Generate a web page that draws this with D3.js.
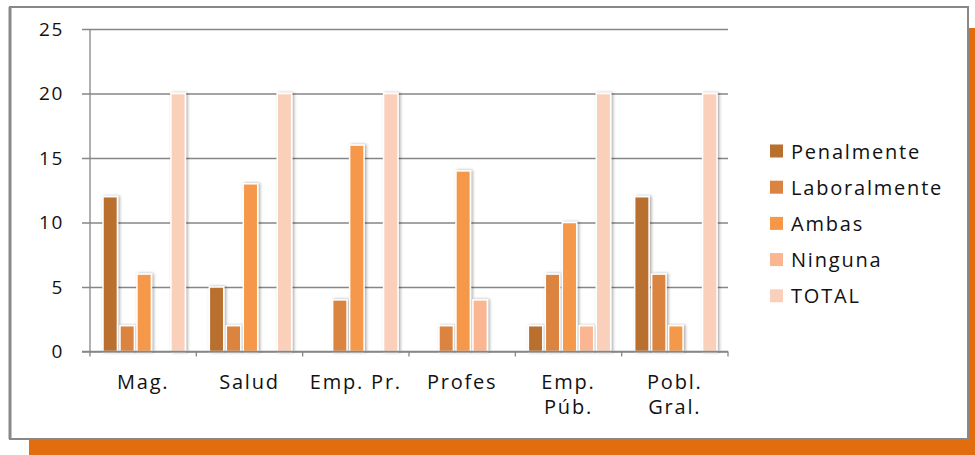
<!DOCTYPE html>
<html>
<head>
<meta charset="utf-8">
<script src="https://cdn.jsdelivr.net/npm/d3@7"></script>
<style>
  html, body { margin: 0; padding: 0; background: #ffffff; }
  svg { display: block; }
  text { font-family: "Open Sans", sans-serif; fill: #111; }
</style>
</head>
<body>
<svg id="chart" width="975" height="455"></svg>
<script>
// Categories (x axis), one label line per array entry
const categories = [["Mag."], ["Salud"], ["Emp. Pr."], ["Profes"], ["Emp.", "Púb."], ["Pobl.", "Gral."]];
const seriesNames = ["Penalmente", "Laboralmente", "Ambas", "Ninguna", "TOTAL"];
const penalmente   = [12, 5, 0, 0, 2, 12];
const laboralmente = [2, 2, 4, 2, 6, 6];
const ambas        = [6, 13, 16, 14, 10, 2];
const ninguna      = [0, 0, 0, 4, 2, 0];
const total        = [20, 20, 20, 0, 20, 20];
const yTicks = [0, 5, 10, 15, 20, 25];

const seriesValues = [penalmente, laboralmente, ambas, ninguna, total];
const colors = ["#B9702F", "#DB8441", "#F69848", "#F9B690", "#FBD0BA"];

const svg = d3.select("#chart");

// Frame: orange offset band behind a white panel with a grey border
svg.append("rect").attr("x", 29).attr("y", 28).attr("width", 960).attr("height", 440).attr("fill", "#E26D0E");
svg.append("rect").attr("x", 10).attr("y", 7).attr("width", 958).attr("height", 432)
  .attr("fill", "#fff").attr("stroke", "#888").attr("stroke-width", 2);
svg.append("line").attr("x1", 10).attr("x2", 10).attr("y1", 7).attr("y2", 439)
  .attr("stroke", "#888").attr("stroke-width", 3);

const defs = svg.append("defs");
const f = defs.append("filter").attr("id", "barShadow")
  .attr("x", "-60%").attr("y", "-10%").attr("width", "220%").attr("height", "120%");
f.append("feDropShadow").attr("dx", 1.5).attr("dy", 0).attr("stdDeviation", 1.8)
  .attr("flood-color", "#000").attr("flood-opacity", 0.35);

const plot = { left: 90, right: 728, top: 29, bottom: 351.5 };

const x0 = d3.scaleBand().domain(d3.range(categories.length)).range([plot.left, plot.right]).paddingInner(0).paddingOuter(0);
const x1 = d3.scaleBand().domain(d3.range(seriesNames.length)).range([13, x0.bandwidth() - 11]).paddingInner(0.15).paddingOuter(0);
const y = d3.scaleLinear().domain([0, 25]).range([plot.bottom, plot.top]);

// Horizontal gridlines + y tick labels
const yAxis = d3.axisLeft(y).tickValues(yTicks).tickSize(-(plot.right - plot.left + 8)).tickPadding(18).tickFormat(d3.format("d"));
const gy = svg.append("g").attr("transform", `translate(${plot.left - 8},0)`).call(yAxis);
gy.select(".domain").remove();
gy.selectAll(".tick line").attr("stroke", "#868686").attr("stroke-width", 1.3);
gy.selectAll(".tick text").attr("font-size", 19).attr("letter-spacing", 1.6).attr("fill", "#111")
  .attr("font-family", "Open Sans, sans-serif");

// Vertical axis line
svg.append("line").attr("x1", plot.left).attr("x2", plot.left).attr("y1", plot.top).attr("y2", plot.bottom)
  .attr("stroke", "#868686").attr("stroke-width", 1.3);

// Bars
const groups = svg.append("g").selectAll("g").data(categories).join("g")
  .attr("transform", (d, i) => `translate(${x0(i)},0)`);
groups.selectAll("rect").data((d, i) => seriesValues.map((s, k) => ({ k, v: s[i] })).filter(e => e.v > 0))
  .join("rect")
  .attr("x", e => x1(e.k))
  .attr("width", x1.bandwidth())
  .attr("y", e => y(e.v))
  .attr("height", e => y(0) - y(e.v))
  .attr("fill", e => colors[e.k])
  .attr("stroke", "#fff").attr("stroke-width", 1.5)
  .attr("filter", "url(#barShadow)");

// x axis with ticks at category boundaries
const gx = svg.append("g");
gx.append("line").attr("x1", plot.left - 8).attr("x2", plot.right).attr("y1", plot.bottom).attr("y2", plot.bottom)
  .attr("stroke", "#868686").attr("stroke-width", 1.3);
gx.selectAll("line.tk").data(d3.range(categories.length + 1)).join("line").attr("class", "tk")
  .attr("x1", i => plot.left + i * x0.step()).attr("x2", i => plot.left + i * x0.step())
  .attr("y1", plot.bottom).attr("y2", plot.bottom + 5)
  .attr("stroke", "#868686").attr("stroke-width", 1.3);
const labels = gx.selectAll("text").data(categories).join("text")
  .attr("x", (d, i) => x0(i) + x0.bandwidth() / 2)
  .attr("y", 389)
  .attr("text-anchor", "middle").attr("font-size", 20).attr("letter-spacing", 1.8);
labels.selectAll("tspan").data(d => d).join("tspan")
  .attr("x", function () { return this.parentNode.getAttribute("x"); })
  .attr("dy", (d, j) => j === 0 ? 0 : 25)
  .text(d => d);

// Legend
const legend = svg.append("g").selectAll("g").data(seriesNames).join("g")
  .attr("transform", (d, i) => `translate(770,${151 + i * 36.2})`);
legend.append("rect").attr("x", 0).attr("y", -6.5).attr("width", 13).attr("height", 13).attr("fill", (d, i) => colors[i]);
legend.append("text").attr("x", 21).attr("y", 7.5).attr("font-size", 20).attr("letter-spacing", 1.8).text(d => d);
</script>
</body>
</html>
